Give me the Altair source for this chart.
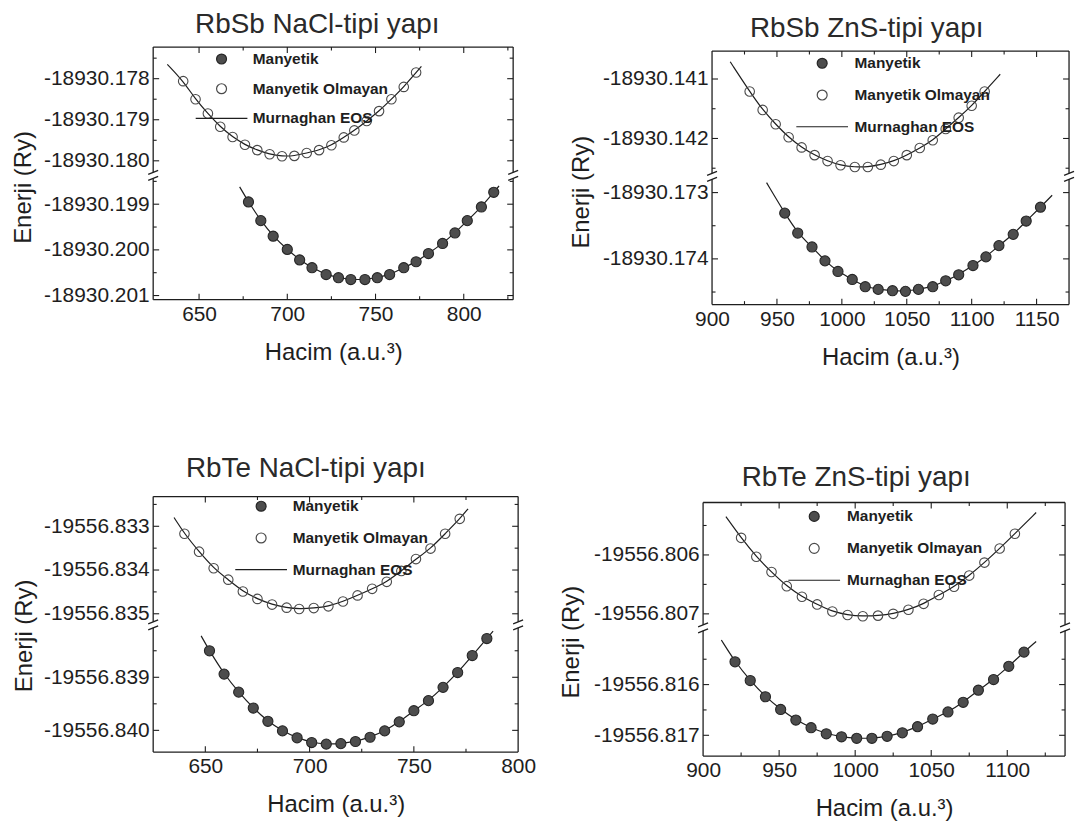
import altair as alt
import pandas as pd

FONT = "Liberation Sans, Arial, Helvetica, sans-serif"
INK = "#1e1e1e"
MAG_FILL = "#4d4d4d"
MAG_STROKE = "#262626"
OPEN_STROKE = "#4a4a4a"
SERIES = ["Manyetik", "Manyetik Olmayan", "Murnaghan EOS"]
X_TITLE = "Hacim (a.u.³)"
Y_TITLE = "Enerji (Ry)"

# ---------------- Panel 1 : RbSb NaCl ----------------
p1_title = "RbSb NaCl-tipi yapı"
p1_open_v = [641, 648, 655, 662, 669, 676, 683, 690, 697, 704, 711, 718, 725, 732, 738, 745, 752, 759, 766, 773]
p1_open_e = [-18930.17806, -18930.17850, -18930.17885, -18930.17917, -18930.17942, -18930.17961, -18930.17974,
             -18930.17984, -18930.17989, -18930.17988, -18930.17981, -18930.17974, -18930.17962, -18930.17943,
             -18930.17926, -18930.17903, -18930.17879, -18930.17850, -18930.17820, -18930.17785]
p1_open_fit_v = [632, 776]
p1_open_fit_e = [-18930.17765, -18930.17770]
p1_mag_v = [678, 685, 692, 700, 707, 714, 722, 729, 736, 744, 751, 758, 766, 773, 780, 788, 795, 802, 810, 817]
p1_mag_e = [-18930.19895, -18930.19936, -18930.19970, -18930.19999, -18930.20022, -18930.20039, -18930.20054,
            -18930.20061, -18930.20065, -18930.20065, -18930.20061, -18930.20054, -18930.20039, -18930.20026,
            -18930.20008, -18930.19986, -18930.19963, -18930.19936, -18930.19906, -18930.19874]
p1_mag_fit_v = [673, 820]
p1_mag_fit_e = [-18930.19862, -18930.19860]
p1_x_labels = [650, 700, 750, 800]
p1_x_minor = [675, 725, 775, 825]
p1_up_ticks = [-18930.178, -18930.179, -18930.180]
p1_up_minor = [-18930.1775, -18930.1785, -18930.1795]
p1_lo_ticks = [-18930.199, -18930.200, -18930.201]
p1_lo_minor = [-18930.1985, -18930.1995, -18930.2005]

# ---------------- Panel 2 : RbSb ZnS ----------------
p2_title = "RbSb ZnS-tipi yapı"
p2_open_v = [929, 939, 949, 959, 969, 979, 989, 999, 1010, 1020, 1030, 1040, 1050, 1060, 1070, 1080, 1090, 1100, 1110]
p2_open_e = [-18930.14121, -18930.14152, -18930.14176, -18930.14198, -18930.14215, -18930.14228, -18930.14238,
             -18930.14245, -18930.14248, -18930.14248, -18930.14244, -18930.14238, -18930.14228, -18930.14216,
             -18930.14203, -18930.14184, -18930.14165, -18930.14145, -18930.14121]
p2_open_fit_v = [914, 1122]
p2_open_fit_e = [-18930.14071, -18930.14092]
p2_mag_v = [956, 966, 977, 987, 997, 1008, 1018, 1028, 1039, 1049, 1059, 1070, 1080, 1090, 1101, 1111, 1121, 1132, 1142, 1153]
p2_mag_e = [-18930.17331, -18930.17361, -18930.17382, -18930.17403, -18930.17419, -18930.17431, -18930.17442,
            -18930.17446, -18930.17448, -18930.17449, -18930.17446, -18930.17442, -18930.17433, -18930.17424,
            -18930.17410, -18930.17397, -18930.17380, -18930.17363, -18930.17343, -18930.17322]
p2_mag_fit_v = [942, 1162]
p2_mag_fit_e = [-18930.17285, -18930.17304]
p2_x_labels = [900, 950, 1000, 1050, 1100, 1150]
p2_x_minor = [925, 975, 1025, 1075, 1125]
p2_up_ticks = [-18930.141, -18930.142]
p2_up_minor = [-18930.1415, -18930.1425]
p2_lo_ticks = [-18930.173, -18930.174]
p2_lo_minor = [-18930.1735, -18930.1745]

# ---------------- Panel 3 : RbTe NaCl ----------------
p3_title = "RbTe NaCl-tipi yapı"
p3_open_v = [640, 647, 654, 661, 668, 675, 682, 689, 695, 702, 709, 716, 723, 730, 737, 744, 751, 758, 765, 772]
p3_open_e = [-19556.83317, -19556.83358, -19556.83396, -19556.83422, -19556.83449, -19556.83466, -19556.83479,
             -19556.83486, -19556.83489, -19556.83487, -19556.83483, -19556.83472, -19556.83458, -19556.83443,
             -19556.83427, -19556.83402, -19556.83375, -19556.83351, -19556.83317, -19556.83283]
p3_open_fit_v = [635, 776]
p3_open_fit_e = [-19556.83280, -19556.83260]
p3_mag_v = [652, 659, 666, 673, 680, 687, 694, 701, 708, 715, 722, 729, 736, 743, 750, 757, 764, 771, 778, 785]
p3_mag_e = [-19556.83850, -19556.83894, -19556.83928, -19556.83958, -19556.83983, -19556.84001, -19556.84014,
            -19556.84023, -19556.84026, -19556.84025, -19556.84021, -19556.84013, -19556.84001, -19556.83984,
            -19556.83963, -19556.83944, -19556.83919, -19556.83891, -19556.83859, -19556.83827]
p3_mag_fit_v = [648, 788]
p3_mag_fit_e = [-19556.83822, -19556.83813]
p3_x_labels = [650, 700, 750, 800]
p3_x_minor = [675, 725, 775]
p3_up_ticks = [-19556.833, -19556.834, -19556.835]
p3_up_minor = [-19556.8325, -19556.8335, -19556.8345]
p3_lo_ticks = [-19556.839, -19556.840]
p3_lo_minor = [-19556.8385, -19556.8395]

# ---------------- Panel 4 : RbTe ZnS ----------------
p4_title = "RbTe ZnS-tipi yapı"
p4_open_v = [925, 935, 945, 955, 965, 975, 985, 995, 1005, 1015, 1025, 1035, 1045, 1055, 1065, 1075, 1085, 1095, 1105]
p4_open_e = [-19556.80571, -19556.80603, -19556.80629, -19556.80653, -19556.80671, -19556.80684, -19556.80696,
             -19556.80702, -19556.80704, -19556.80703, -19556.80700, -19556.80693, -19556.80683, -19556.80668,
             -19556.80654, -19556.80635, -19556.80613, -19556.80589, -19556.80564]
p4_open_fit_v = [915, 1119]
p4_open_fit_e = [-19556.80535, -19556.80528]
p4_mag_v = [921, 931, 941, 951, 961, 971, 981, 991, 1001, 1011, 1021, 1031, 1041, 1051, 1061, 1071, 1081, 1091, 1101, 1111]
p4_mag_e = [-19556.81555, -19556.81592, -19556.81624, -19556.81649, -19556.81670, -19556.81685, -19556.81697,
            -19556.81703, -19556.81706, -19556.81706, -19556.81702, -19556.81695, -19556.81683, -19556.81668,
            -19556.81654, -19556.81635, -19556.81611, -19556.81590, -19556.81564, -19556.81536]
p4_mag_fit_v = [912, 1119]
p4_mag_fit_e = [-19556.81512, -19556.81515]
p4_x_labels = [900, 950, 1000, 1050, 1100]
p4_x_minor = [925, 975, 1025, 1075, 1125]
p4_up_ticks = [-19556.806, -19556.807]
p4_up_minor = [-19556.8055, -19556.8065]
p4_lo_ticks = [-19556.816, -19556.817]
p4_lo_minor = [-19556.8155, -19556.8165]

# ---------------- layout (style) settings per panel ----------------
# ins = gap (px) between the top of the panel's plot area and its drawn top frame line
PANELS = [
    dict(title=p1_title, tdx=-16, toff=8, yoff=8, W=362, hu=128, hl=124, ins=0,
         xdom=[624, 828], updom=[-18930.18033, -18930.17723], lodom=[-18930.20109, -18930.19839],
         xl=p1_x_labels, xm=p1_x_minor, ut=p1_up_ticks, um=p1_up_minor, lt=p1_lo_ticks, lm=p1_lo_minor,
         ov=p1_open_v, oe=p1_open_e, ofv=p1_open_fit_v, ofe=p1_open_fit_e,
         mv=p1_mag_v, me=p1_mag_e, mfv=p1_mag_fit_v, mfe=p1_mag_fit_e,
         leg=(61, 4.25, 23.6, 12.9)),
    dict(title=p2_title, tdx=-24, toff=4, yoff=8, W=359, hu=125, hl=128, ins=4,
         xdom=[900, 1175], updom=[-18930.14262, -18930.14053], lodom=[-18930.17469, -18930.17277],
         xl=p2_x_labels, xm=p2_x_minor, ut=p2_up_ticks, um=p2_up_minor, lt=p2_lo_ticks, lm=p2_lo_minor,
         ov=p2_open_v, oe=p2_open_e, ofv=p2_open_fit_v, ofe=p2_open_fit_e,
         mv=p2_mag_v, me=p2_mag_e, mfv=p2_mag_fit_v, mfe=p2_mag_fit_e,
         leg=(103, 8.55, 24.8, 14.9)),
    dict(title=p3_title, tdx=-30, toff=13, yoff=7, W=367, hu=128, hl=127, ins=0,
         xdom=[625, 800], updom=[-19556.83523, -19556.83232], lodom=[-19556.84041, -19556.83803],
         xl=p3_x_labels, xm=p3_x_minor, ut=p3_up_ticks, um=p3_up_minor, lt=p3_lo_ticks, lm=p3_lo_minor,
         ov=p3_open_v, oe=p3_open_e, ofv=p3_open_fit_v, ofe=p3_open_fit_e,
         mv=p3_mag_v, me=p3_mag_e, mfv=p3_mag_fit_v, mfe=p3_mag_fit_e,
         leg=(100.8, 2, 24.0, 14.9)),
    dict(title=p4_title, tdx=-28, toff=5, yoff=9.5, W=364, hu=125, hl=128, ins=6,
         xdom=[900, 1138], updom=[-19556.80722, -19556.80511], lodom=[-19556.81741, -19556.81490],
         xl=p4_x_labels, xm=p4_x_minor, ut=p4_up_ticks, um=p4_up_minor, lt=p4_lo_ticks, lm=p4_lo_minor,
         ov=p4_open_v, oe=p4_open_e, ofv=p4_open_fit_v, ofe=p4_open_fit_e,
         mv=p4_mag_v, me=p4_mag_e, mfv=p4_mag_fit_v, mfe=p4_mag_fit_e,
         leg=(104, 12.25, 25.2, 15.1)),
]

MAJ, MIN = 6, 3.5
ONE = pd.DataFrame({"k": [0]})


def yaxis(vals):
    return alt.Axis(values=vals, labelExpr="'-' + format(-datum.value, '.3f')", ticks=False, domain=False,
                    grid=False, title=None, labelPadding=4, labelFontSize=21, labelFont=FONT,
                    labelColor=INK, labelFlush=False, labelOverlap=False)


def xaxis(vals):
    return alt.Axis(values=vals, format="d", ticks=False, domain=False, grid=False,
                    title=X_TITLE, titleFont=FONT, titleFontSize=24, titleFontWeight="normal",
                    titleColor=INK, titlePadding=16, labelPadding=4, labelFontSize=21, labelFont=FONT,
                    labelColor=INK, labelFlush=False, labelOverlap=False)


def rule(**enc):
    return alt.Chart(ONE).mark_rule(color=INK, strokeWidth=1.3).encode(**enc)


def guides(W, H, xs, ys, xax, yax, xmaj, xmin, ymaj, ymin, part, top=0):
    out = []
    for vals, L in ((xmaj, MAJ), (xmin, MIN)):
        if not vals:
            continue
        d = pd.DataFrame({"t": vals})
        if part == "upper":
            out.append(alt.Chart(d).mark_rule(color=INK, strokeWidth=1.1).encode(
                x=alt.X("t:Q", scale=xs, axis=xax), y=alt.value(top), y2=alt.value(top + L)))
        else:
            out.append(alt.Chart(d).mark_rule(color=INK, strokeWidth=1.1).encode(
                x=alt.X("t:Q", scale=xs, axis=xax), y=alt.value(H), y2=alt.value(H - L)))
    for vals, L in ((ymaj, MAJ), (ymin, MIN)):
        d = pd.DataFrame({"t": vals})
        out.append(alt.Chart(d).mark_rule(color=INK, strokeWidth=1.1).encode(
            y=alt.Y("t:Q", scale=ys, axis=yax), x=alt.value(0), x2=alt.value(L)))
        out.append(alt.Chart(d).mark_rule(color=INK, strokeWidth=1.1).encode(
            y=alt.Y("t:Q", scale=ys, axis=yax), x=alt.value(W), x2=alt.value(W - L)))
    if part == "upper":
        out.append(rule(x=alt.value(0), x2=alt.value(W), y=alt.value(top)))
        for xx in (0, W):
            out.append(rule(x=alt.value(xx), y=alt.value(top), y2=alt.value(H - 2)))
            out.append(rule(x=alt.value(xx - 5), x2=alt.value(xx + 5), y=alt.value(H), y2=alt.value(H - 4)))
    else:
        out.append(rule(x=alt.value(0), x2=alt.value(W), y=alt.value(H)))
        for xx in (0, W):
            out.append(rule(x=alt.value(xx), y=alt.value(2), y2=alt.value(H)))
            out.append(rule(x=alt.value(xx - 5), x2=alt.value(xx + 5), y=alt.value(4), y2=alt.value(0)))
    return out


def indep(ch):
    return ch.resolve_scale(x="independent", y="independent", fill="independent",
                            stroke="independent", shape="independent").resolve_legend(
        fill="independent", stroke="independent", shape="independent")


def inside(vals, dom):
    return [v for v in vals if dom[0] < v < dom[1]]


def panel(p):
    ins = p["ins"]
    hu_tot = p["hu"] + ins
    lo_u, hi_u = p["updom"]
    hi_u_ext = hi_u + (hi_u - lo_u) / p["hu"] * ins  # plot area extends `ins` px above the frame line
    xs = alt.Scale(domain=p["xdom"], nice=False, zero=False)
    ysu = alt.Scale(domain=[lo_u, hi_u_ext], nice=False, zero=False)
    ysl = alt.Scale(domain=p["lodom"], nice=False, zero=False)
    yax_u = yaxis(p["ut"])
    yax_l = yaxis(p["lt"])
    xax_l = xaxis(p["xl"])
    lx, ly, lo, rp = p["leg"]
    lg = alt.Legend(title=None, orient="none", legendX=lx, legendY=ly, direction="vertical",
                    labelFont=FONT, labelFontSize=15.5, labelFontWeight="bold", labelColor=INK,
                    labelOffset=lo, rowPadding=rp, symbolSize=100, symbolStrokeWidth=1.2,
                    padding=0, labelLimit=400)

    d_open = pd.DataFrame({"V": p["ov"], "E": p["oe"], "series": "Manyetik Olmayan"})
    d_ofit = pd.DataFrame({"V": [p["ofv"][0]] + p["ov"] + [p["ofv"][1]],
                           "E": [p["ofe"][0]] + p["oe"] + [p["ofe"][1]]})
    d_mag = pd.DataFrame({"V": p["mv"], "E": p["me"], "series": "Manyetik"})
    d_mfit = pd.DataFrame({"V": [p["mfv"][0]] + p["mv"] + [p["mfv"][1]],
                           "E": [p["mfe"][0]] + p["me"] + [p["mfe"][1]]})
    xmaj = inside(p["xl"], p["xdom"])

    line_u = alt.Chart(d_ofit).mark_line(color=INK, strokeWidth=1.2, interpolate="basis").encode(
        x=alt.X("V:Q", scale=xs, axis=None), y=alt.Y("E:Q", scale=ysu, axis=yax_u))
    pts_u = alt.Chart(d_open).mark_point(filled=True, size=92, opacity=1, strokeWidth=1.1).encode(
        x=alt.X("V:Q", scale=xs, axis=None),
        y=alt.Y("E:Q", scale=ysu, axis=yax_u),
        fill=alt.Fill("series:N", scale=alt.Scale(domain=SERIES, range=[MAG_FILL, "transparent", "transparent"]), legend=lg),
        stroke=alt.Stroke("series:N", scale=alt.Scale(domain=SERIES, range=[MAG_STROKE, OPEN_STROKE, INK]), legend=lg),
        shape=alt.Shape("series:N", scale=alt.Scale(domain=SERIES, range=["circle", "circle", "M-5.2,0L5.2,0"]), legend=lg),
    )
    upper = alt.layer(line_u, pts_u, *guides(p["W"], hu_tot, xs, ysu, None, yax_u, xmaj, p["xm"],
                                             p["ut"], p["um"], "upper", top=ins)).properties(
        width=p["W"], height=hu_tot,
        title=alt.Title(p["title"], font=FONT, fontSize=28, fontWeight="normal", color="#2a2a2a",
                        anchor="middle", frame="group", dx=p["tdx"], offset=p["toff"]))

    line_l = alt.Chart(d_mfit).mark_line(color=INK, strokeWidth=1.2, interpolate="basis").encode(
        x=alt.X("V:Q", scale=xs, axis=xax_l), y=alt.Y("E:Q", scale=ysl, axis=yax_l))
    pts_l = alt.Chart(d_mag).mark_point(filled=True, size=104, opacity=1, strokeWidth=1.1,
                                        fill=MAG_FILL, stroke=MAG_STROKE).encode(
        x=alt.X("V:Q", scale=xs, axis=xax_l),
        y=alt.Y("E:Q", scale=ysl, axis=yax_l),
    )
    lower = alt.layer(line_l, pts_l, *guides(p["W"], p["hl"], xs, ysl, xax_l, yax_l, xmaj, p["xm"],
                                             p["lt"], p["lm"], "lower")).properties(
        width=p["W"], height=p["hl"])

    return indep(alt.vconcat(upper, lower, spacing=0,
                             title=alt.Title(Y_TITLE, orient="left", anchor="middle", frame="bounds",
                                             font=FONT, fontSize=24, fontWeight="normal", color=INK,
                                             offset=p["yoff"])))


p1, p2, p3, p4 = [panel(p) for p in PANELS]
row1 = indep(alt.hconcat(p1, p2, spacing=51))
row2 = indep(alt.hconcat(p3, p4, spacing=24))
chart = indep(alt.vconcat(row1, row2, spacing=86)).properties(
    padding={"left": 3, "top": 0, "right": 0, "bottom": 0}).configure_view(stroke=None)

chart.save("out.html", embed_options={"renderer": "svg", "actions": False})
